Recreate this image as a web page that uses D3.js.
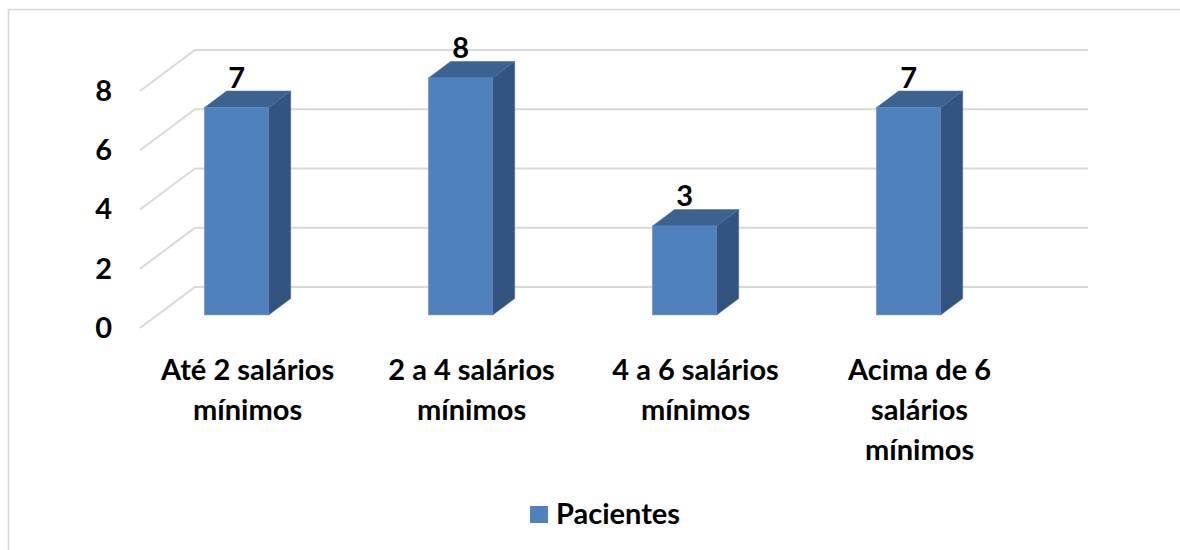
<!DOCTYPE html>
<html>
<head>
<meta charset="utf-8">
<script src="https://cdn.jsdelivr.net/npm/d3@7"></script>
<style>
  body { margin: 0; background: #fff; }
  text { font-family: Lato, "Open Sans", sans-serif; font-weight: bold; fill: #000; }
</style>
</head>
<body>
<div id="chart"></div>
<script>
// data
var categories = [["Até 2 salários", "mínimos"], ["2 a 4 salários", "mínimos"], ["4 a 6 salários", "mínimos"], ["Acima de 6", "salários", "mínimos"]];
var pacientes = [7, 8, 3, 7];
var yTicks = [0, 2, 4, 6, 8];
var seriesName = "Pacientes";

var width = 1180, height = 550;
var depthX = 55, depthY = 41;   // full depth of the 3d box
var z0 = 0.32, z1 = 0.72;       // bar front / back depth
var fs = "29px";

var svg = d3.select("#chart").append("svg")
  .attr("width", width).attr("height", height);

// chart border (only top and left show in the frame)
svg.append("path")
  .attr("d", "M8.5,560 V9.5 H1190")
  .attr("fill", "none").attr("stroke", "#d9d9d9").attr("stroke-width", 1.5);

var keys = categories.map(function(d) { return d.join(" "); });

var x = d3.scaleBand().domain(keys).range([107, 1003])
  .paddingInner(0.714).paddingOuter(0.357);

var y = d3.scaleLinear().domain([0, 8]).range([328, 91]);

// project front-plane point into depth z
function px(xv, z) { return xv + z * depthX; }
function py(yv, z) { return yv - z * depthY; }

// gridlines: floor/side diagonal + back wall
svg.append("g").selectAll("path")
  .data(yTicks).enter().append("path")
  .attr("d", function(t) {
    var y0 = y(t);
    return "M140," + y0 + " L" + px(140, 1) + "," + py(y0, 1) + " H1088";
  })
  .attr("fill", "none").attr("stroke", "#d9d9d9").attr("stroke-width", 2);

// y axis labels
var yAxis = svg.append("g")
  .attr("transform", "translate(112,0)")
  .call(d3.axisLeft(y).tickValues(yTicks).tickSize(0).tickPadding(0));
yAxis.select(".domain").remove();
yAxis.selectAll("text")
  .style("font-size", fs).style("font-family", "Lato, sans-serif").style("font-weight", "bold")
  .attr("fill", "#000");

var data = keys.map(function(k, i) { return { key: k, value: pacientes[i], lines: categories[i] }; });

var bars = svg.append("g").selectAll("g")
  .data(data).enter().append("g");

// side face
bars.append("path")
  .attr("d", function(d) {
    var xr = x(d.key) + x.bandwidth();
    var yt = y(d.value), yb = y(0);
    return "M" + px(xr, z0) + "," + py(yt, z0) +
      " L" + px(xr, z1) + "," + py(yt, z1) +
      " L" + px(xr, z1) + "," + py(yb, z1) +
      " L" + px(xr, z0) + "," + py(yb, z0) + "Z";
  })
  .attr("fill", "#335481").attr("stroke", "#3a5f8e").attr("stroke-width", 0.6);

// top face
bars.append("path")
  .attr("d", function(d) {
    var xl = x(d.key), xr = xl + x.bandwidth();
    var yt = y(d.value);
    return "M" + px(xl, z0) + "," + py(yt, z0) +
      " L" + px(xl, z1) + "," + py(yt, z1) +
      " L" + px(xr, z1) + "," + py(yt, z1) +
      " L" + px(xr, z0) + "," + py(yt, z0) + "Z";
  })
  .attr("fill", "#3c6290").attr("stroke", "#4a74a6").attr("stroke-width", 0.6);

// front face
bars.append("rect")
  .attr("x", function(d) { return px(x(d.key), z0); })
  .attr("y", function(d) { return py(y(d.value), z0); })
  .attr("width", x.bandwidth())
  .attr("height", function(d) { return y(0) - y(d.value); })
  .attr("fill", "#4f81bd").attr("stroke", "#5b8cc6").attr("stroke-width", 0.6);

// value labels
bars.append("text")
  .attr("x", function(d) { return px(x(d.key) + x.bandwidth() / 2, z0); })
  .attr("y", function(d) { return py(y(d.value), z0) - 20; })
  .attr("text-anchor", "middle")
  .style("font-size", fs)
  .text(function(d) { return d.value; });

// category labels
var cat = svg.append("g").selectAll("text")
  .data(data).enter().append("text")
  .attr("text-anchor", "middle")
  .attr("x", function(d) { return px(x(d.key) + x.bandwidth() / 2, z0) + 11; })
  .attr("y", 380)
  .style("font-size", fs);
cat.selectAll("tspan")
  .data(function(d) { return d.lines; }).enter().append("tspan")
  .attr("x", function() { return d3.select(this.parentNode).attr("x"); })
  .attr("dy", function(l, i) { return i === 0 ? 0 : 40; })
  .text(function(l) { return l; });

// legend
var legend = svg.append("g").attr("transform", "translate(530,506)");
legend.append("rect").attr("width", 18).attr("height", 17).attr("fill", "#4f81bd");
legend.append("text").attr("x", 26).attr("y", 18).style("font-size", fs).text(seriesName);
</script>
</body>
</html>
